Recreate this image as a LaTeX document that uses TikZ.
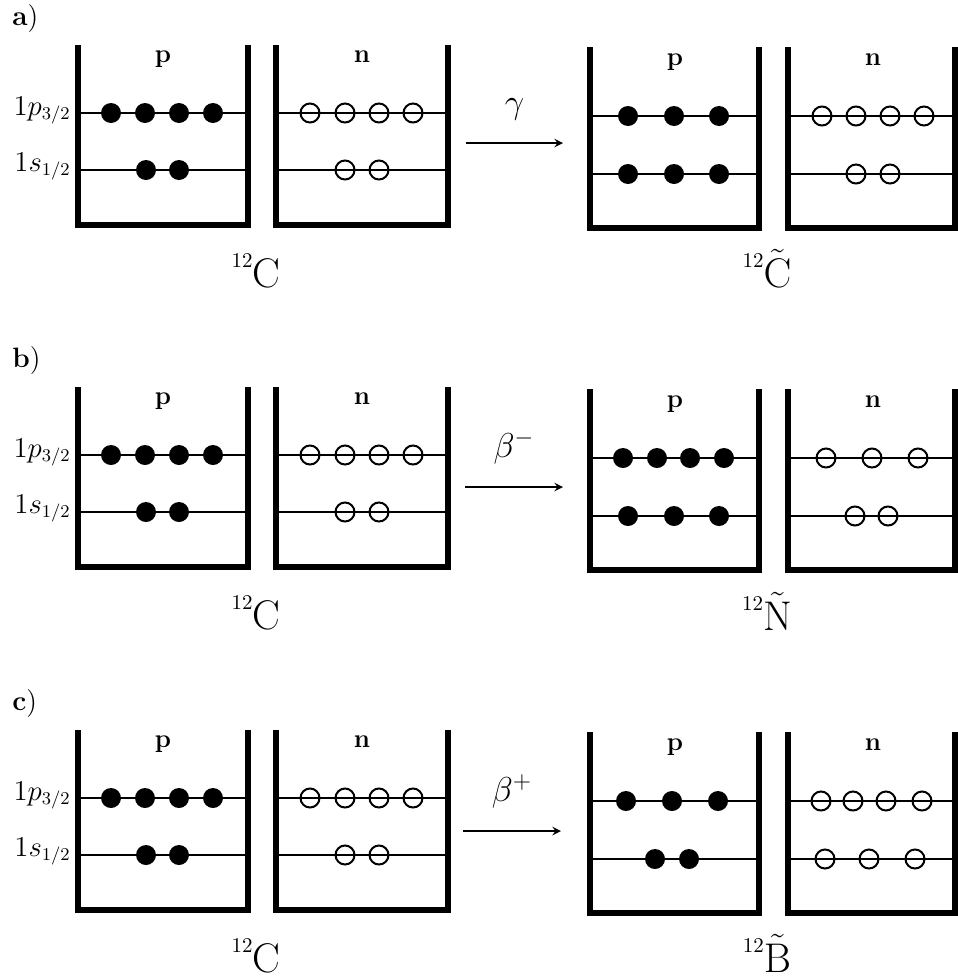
\documentclass[tikz,border=0pt]{standalone}
\usepackage{amsmath}
\usepackage{tikz}
\usetikzlibrary{positioning,arrows,calc}

\tikzset{
  >=stealth,
  % --- boxes
  wall/.style    = {line width=3pt, line join=miter},
  level/.style   = {line width=1.2pt},
  % --- particles
  proton/.style  = {circle, fill=black, inner sep=0pt, minimum size=10pt},
  neutron/.style = {circle, draw=black, line width=1pt, inner sep=0pt, minimum size=9.5pt},
  % --- text
  tag/.style     = {font=\fontsize{14}{16}\selectfont, anchor=base west, inner sep=0pt},
  kind/.style    = {font=\fontsize{13}{15}\selectfont\bfseries, anchor=base, inner sep=0pt},
  orb/.style     = {font=\fontsize{13.5}{15}\selectfont, anchor=base east, inner sep=0pt},
  nucl/.style    = {font=\fontsize{20.74}{24}\selectfont, anchor=base, inner sep=0pt},
  % --- edges
  decay/.style   = {->, line width=0.9pt},
  elabel/.style  = {font=\fontsize{17.28}{20}\selectfont, above=11pt, inner sep=0pt},
}
\newcommand\massno{\raisebox{10pt}{\fontsize{10.5}{12}\selectfont 12}}

\begin{document}
\begin{tikzpicture}[x=0.5pt, y=-0.5pt]
  \useasboundingbox (0,0) rectangle (958,980);

  % ground state 12C, the same in every panel
  \foreach \dy/\pnl in {0/a,342/b,685/c} {
    \node[tag] (\pnl-tag) at (12,25+\dy) {\textbf{\pnl})};
    \node[orb] (\pnl-orbp) at (71,115+\dy) {$1p_{3/2}$};
    \node[orb] (\pnl-orbs) at (71,171+\dy) {$1s_{1/2}$};
    % left boxes
    \draw[level] (78,113+\dy) -- (248,113+\dy);
    \draw[level] (78,170+\dy) -- (248,170+\dy);
    \draw[level] (276,113+\dy) -- (448,113+\dy);
    \draw[level] (276,170+\dy) -- (448,170+\dy);
    \draw[wall] (78,45+\dy) |- (248,225+\dy) -- (248,45+\dy);
    \draw[wall] (276,45+\dy) |- (448,225+\dy) -- (448,45+\dy);
    \node[kind] (\pnl-lp) at (163,62+\dy) {p};
    \node[kind] (\pnl-ln) at (362,62+\dy) {n};
    \foreach \x [count=\i] in {111,145,179,213}
      \node[proton] (\pnl-lpp\i) at (\x,113+\dy) {};
    \foreach \x [count=\i] in {146,179}
      \node[proton] (\pnl-lps\i) at (\x,170+\dy) {};
    \foreach \x [count=\i] in {310,345,379,413}
      \node[neutron] (\pnl-lnp\i) at (\x,113+\dy) {};
    \foreach \x [count=\i] in {345,379}
      \node[neutron] (\pnl-lns\i) at (\x,170+\dy) {};
    \node[nucl] (\pnl-left) at (256,287+\dy) {\massno C};
    % right boxes
    \draw[level] (590,116+\dy) -- (759,116+\dy);
    \draw[level] (590,174+\dy) -- (759,174+\dy);
    \draw[level] (788,116+\dy) -- (955,116+\dy);
    \draw[level] (788,174+\dy) -- (955,174+\dy);
    \draw[wall] (590,47+\dy) |- (759,228+\dy) -- (759,47+\dy);
    \draw[wall] (788,47+\dy) |- (955,228+\dy) -- (955,47+\dy);
    \node[kind] (\pnl-rp) at (675,65+\dy) {p};
    \node[kind] (\pnl-rn) at (873,65+\dy) {n};
  }

  % a) gamma
  \coordinate (a-from) at (466,143);
  \coordinate (a-to) at (563,143);
  \draw[decay] (a-from) -- node[elabel] (a-ray) {$\gamma$} (a-to);
  \foreach \x [count=\i] in {628,674,719} {
    \node[proton] (a-rpp\i) at (\x,116) {};
    \node[proton] (a-rps\i) at (\x,174) {};
  }
  \foreach \x [count=\i] in {822,856,890,924}
    \node[neutron] (a-rnp\i) at (\x,116) {};
  \foreach \x [count=\i] in {856,890}
    \node[neutron] (a-rns\i) at (\x,174) {};
  \node[nucl] (a-right) at (767,287) {\massno$\tilde{\mathrm{C}}$};

  % b) beta minus
  \coordinate (b-from) at (465,487);
  \coordinate (b-to) at (563,487);
  \draw[decay] (b-from) -- node[elabel] (b-ray) {$\beta^-$} (b-to);
  \foreach \x [count=\i] in {623,657,690,724}
    \node[proton] (b-rpp\i) at (\x,458) {};
  \foreach \x [count=\i] in {628,674,719}
    \node[proton] (b-rps\i) at (\x,516) {};
  \foreach \x [count=\i] in {826,872,918}
    \node[neutron] (b-rnp\i) at (\x,458) {};
  \foreach \x [count=\i] in {855,888}
    \node[neutron] (b-rns\i) at (\x,516) {};
  \node[nucl] (b-right) at (767,630) {\massno$\tilde{\mathrm{N}}$};

  % c) beta plus
  \coordinate (c-from) at (463,831);
  \coordinate (c-to) at (561,831);
  \draw[decay] (c-from) -- node[elabel] (c-ray) {$\beta^+$} (c-to);
  \foreach \x [count=\i] in {626,672,718}
    \node[proton] (c-rpp\i) at (\x,801) {};
  \foreach \x [count=\i] in {655,689}
    \node[proton] (c-rps\i) at (\x,859) {};
  \foreach \x [count=\i] in {821,853,886,922}
    \node[neutron] (c-rnp\i) at (\x,801) {};
  \foreach \x [count=\i] in {825,869,915}
    \node[neutron] (c-rns\i) at (\x,859) {};
  \node[nucl] (c-right) at (767,972) {\massno$\tilde{\mathrm{B}}$};
\end{tikzpicture}
\end{document}
